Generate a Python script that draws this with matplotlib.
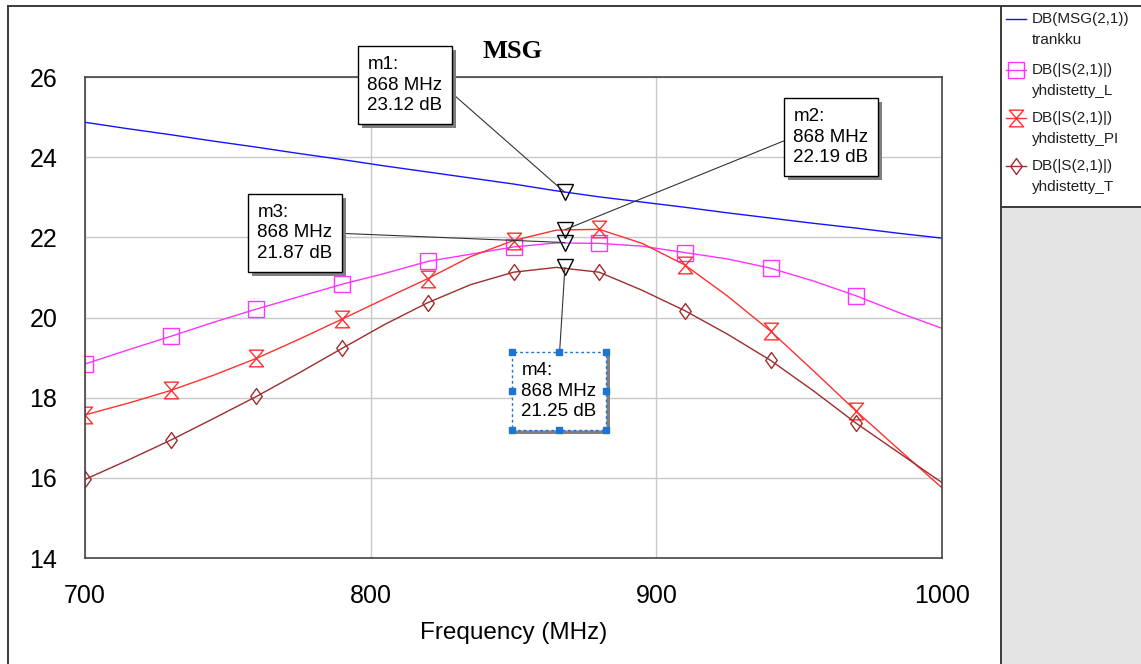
import matplotlib
matplotlib.use("Agg")
from matplotlib import pyplot as plt
from matplotlib.lines import Line2D
from matplotlib.patches import Rectangle
from matplotlib.path import Path
import matplotlib.patheffects as pe

plt.rcParams["font.family"] = ["Liberation Sans", "DejaVu Sans"]

# frequency sweep (MHz) and traces (dB)
freq = [700, 715, 730, 745, 760, 775, 790, 805, 820, 835, 850,
        865, 880, 895, 910, 925, 940, 955, 970, 985, 1000]
msg_trankku = [24.87, 24.71, 24.56, 24.40, 24.25, 24.09, 23.94, 23.78, 23.63, 23.48, 23.33,
               23.16, 23.01, 22.88, 22.75, 22.61, 22.48, 22.35, 22.23, 22.10, 21.98]
s21_L = [18.84, 19.19, 19.53, 19.88, 20.21, 20.52, 20.83, 21.10, 21.40, 21.58, 21.76,
         21.86, 21.85, 21.78, 21.62, 21.46, 21.23, 20.91, 20.54, 20.12, 19.73]
s21_PI = [17.57, 17.86, 18.18, 18.56, 18.98, 19.46, 19.96, 20.47, 20.97, 21.52, 21.92,
          22.18, 22.20, 21.85, 21.31, 20.53, 19.66, 18.67, 17.66, 16.70, 15.75]
s21_T = [15.96, 16.44, 16.94, 17.48, 18.03, 18.62, 19.23, 19.83, 20.37, 20.82, 21.13,
         21.25, 21.13, 20.68, 20.17, 19.58, 18.93, 18.17, 17.36, 16.62, 15.88]

marker_names = ["m1", "m2", "m3", "m4"]
marker_freq = 868
marker_db = [23.12, 22.19, 21.87, 21.25]

legend_expr = ["DB(MSG(2,1))", "DB(|S(2,1)|)", "DB(|S(2,1)|)", "DB(|S(2,1)|)"]
legend_names = ["trankku", "yhdistetty_L", "yhdistetty_PI", "yhdistetty_T"]

W, H = 1141, 664
fig = plt.figure(figsize=(W / 100, H / 100), dpi=100)


def fx(px):
    return px / W


def fy(py):
    return 1 - py / H


# window frame and legend panel
fig.add_artist(Rectangle((fx(1002), 0), fx(W) - fx(1002), fy(208), color="#e4e4e4", lw=0))
for xs, ys in [((8, W), (6, 6)), ((8, 8), (6, H)), ((1001, 1001), (6, H)), ((1001, W), (207, 207))]:
    fig.add_artist(Line2D([fx(x) for x in xs], [fy(y) for y in ys], color="#3a3a3a", lw=1.4))

ax = fig.add_axes([fx(85), fy(558), 857 / W, 481 / H])

hourglass = Path([(-0.85, 1), (0.85, 1), (-0.85, -1), (0.85, -1), (-0.85, 1)],
                 [Path.MOVETO, Path.LINETO, Path.LINETO, Path.LINETO, Path.CLOSEPOLY])
diamond = Path([(0, 1), (0.72, 0), (0, -1), (-0.72, 0), (0, 1)],
               [Path.MOVETO, Path.LINETO, Path.LINETO, Path.LINETO, Path.CLOSEPOLY])

series = [
    (msg_trankku, "#1414ff", None, 0),
    (s21_L, "#ff33ff", "s", 11.5),
    (s21_PI, "#ff3030", hourglass, 12),
    (s21_T, "#a02c2c", diamond, 11.5),
]
marks = list(range(0, 20, 2))
for vals, col, mk, ms in series:
    ax.plot(freq, vals, color=col, lw=1, marker=mk, ms=ms, mfc="none", mec=col,
            mew=1, markevery=marks)

ax.set_xlim(700, 1000)
ax.set_ylim(14, 26)
ax.set_xticks([700, 800, 900, 1000])
ax.set_yticks(range(14, 27, 2))
ax.tick_params(length=0, labelsize=18)
ax.tick_params(axis="x", pad=19)
ax.tick_params(axis="y", pad=20)
ax.grid(color="#c8c8c8", lw=1)
for s in ax.spines.values():
    s.set_color("#444444")
    s.set_linewidth(1.2)
ax.set_xlabel("Frequency (MHz)", fontsize=17.5, labelpad=10)

fig.text(fx(513), fy(52), "MSG", family=["Liberation Serif", "DejaVu Serif"],
         weight="bold", size=19, ha="center", va="center")

# marker readouts
box_centers = [(405, 85), (831, 137), (295, 233), (559, 391)]
rel = [(1, 0.5), (0, 0.5), (1, 0.5), (0.5, 1)]
anns = []
for name, val, (cx, cy), rp in zip(marker_names, marker_db, box_centers, rel):
    ax.plot(marker_freq, val, marker="v", ms=11, mfc="none", mec="black", mew=1, zorder=5)
    a = ax.annotate(f"{name}:\n{marker_freq} MHz\n{val:.2f} dB", xy=(marker_freq, val),
                    xytext=(fx(cx), fy(cy)), textcoords="figure fraction",
                    ha="center", va="center", multialignment="left", fontsize=13.5,
                    linespacing=1.3,
                    bbox=dict(boxstyle="square,pad=0.5", fc="white", ec="black", lw=1),
                    arrowprops=dict(arrowstyle="-", color="#333333", lw=0.8, relpos=rp,
                                    shrinkA=0, shrinkB=0),
                    zorder=6, annotation_clip=False)
    a.get_bbox_patch().set_path_effects(
        [pe.withSimplePatchShadow(offset=(3, -3), shadow_rgbFace="#808080", alpha=1.0)])
    anns.append(a)

# m4 is shown selected: dashed blue outline with handles
sel = anns[3].get_bbox_patch()
sel.set_edgecolor("#1c74d4")
sel.set_linestyle((0, (2, 2)))
fig.canvas.draw()
bb = sel.get_window_extent(fig.canvas.get_renderer())
for hx in (bb.x0, (bb.x0 + bb.x1) / 2, bb.x1):
    for hy in (bb.y0, (bb.y0 + bb.y1) / 2, bb.y1):
        if hx == (bb.x0 + bb.x1) / 2 and hy == (bb.y0 + bb.y1) / 2:
            continue
        fig.add_artist(Rectangle(((hx - 3) / W, (hy - 3) / H), 6 / W, 6 / H,
                                 color="#1c74d4", zorder=10))

# legend
entry_y = [19, 70, 118, 166]
for (vals, col, mk, ms), expr, name, yc in zip(series, legend_expr, legend_names, entry_y):
    fig.add_artist(Line2D([fx(1006), fx(1026)], [fy(yc), fy(yc)], color=col, lw=1))
    if mk is not None:
        fig.add_artist(Line2D([fx(1016)], [fy(yc)], marker=mk, ms=ms, mfc="none",
                              mec=col, mew=1, color=col))
    fig.text(fx(1032), fy(yc), expr, fontsize=11, va="center", ha="left", color="#202020")
    fig.text(fx(1032), fy(yc + 21), name, fontsize=11, va="center", ha="left", color="#202020")

fig.savefig("out.png", dpi=100)
